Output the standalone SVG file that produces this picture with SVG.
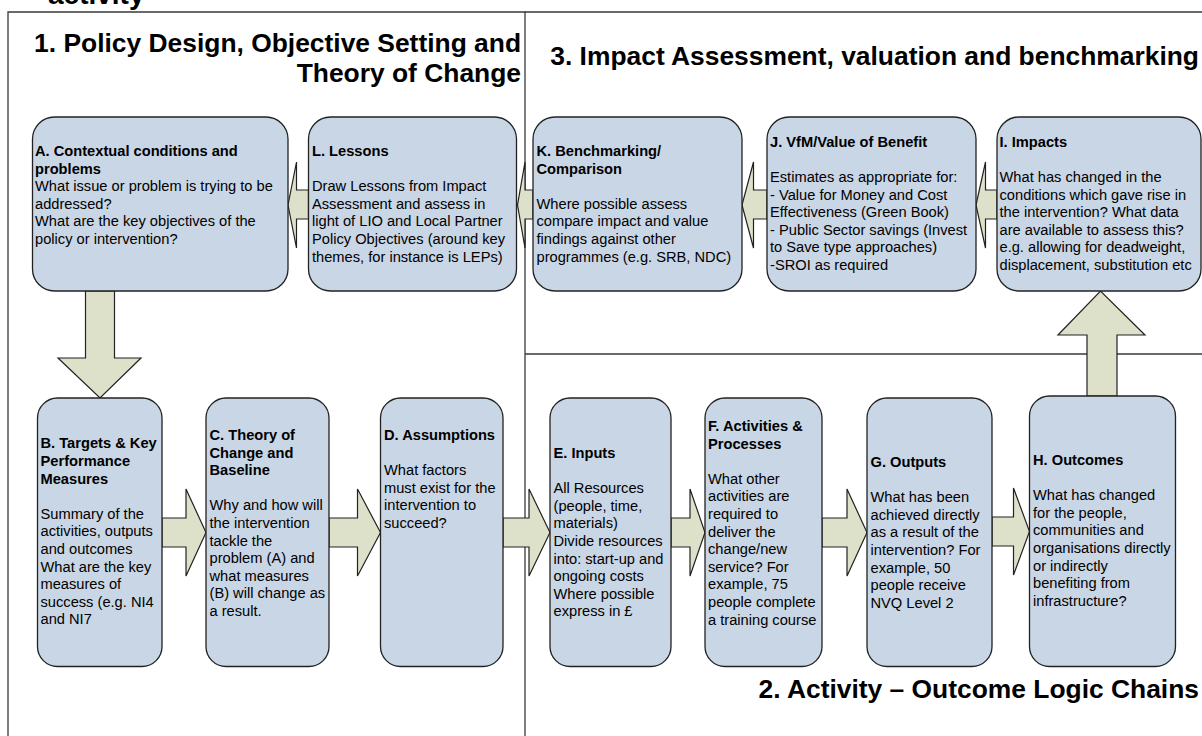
<svg xmlns="http://www.w3.org/2000/svg" width="1202" height="736" viewBox="0 0 1202 736">
<style>
.frame{fill:none;stroke:#3a3a3a;stroke-width:1.3}
.box{fill:#c9d6e5;stroke:#222;stroke-width:1.3}
.arr{fill:#dee1ca;stroke:#222;stroke-width:1.2;stroke-linejoin:miter}
text{font-family:"Liberation Sans",Arial,sans-serif;fill:#000}
.t{font-size:14.67px}
.b{font-size:14.67px;font-weight:bold}
.h{font-size:26.4px;font-weight:bold}
</style>
<rect width="1202" height="736" fill="#fff"/>
<g id="frames">
<text x="48" y="4" style="font-size:28px;font-weight:bold">activity</text>
<path class="frame" d="M8,740 V12 H525 V740"/>
<path class="frame" d="M525,12 H1205 M525,354 H1205"/>
<text class="h" x="521" y="52" text-anchor="end">1. Policy Design, Objective Setting and</text>
<text class="h" x="521" y="82" text-anchor="end">Theory of Change</text>
<text class="h" x="1199" y="65" text-anchor="end">3. Impact Assessment, valuation and benchmarking</text>
<text class="h" x="1199" y="698" text-anchor="end">2. Activity – Outcome Logic Chains</text>
</g>
<g id="connectors">
<path class="arr" d="M308.5,190 H296.5 V162 L288,205 L296.5,248 V219 H308.5 Z"/>
<path class="arr" d="M533,190 H525 V162 L517.5,205 L525,248 V219 H533 Z"/>
<path class="arr" d="M767,190 H753.5 V162 L742,205 L753.5,248 V219 H767 Z"/>
<path class="arr" d="M997,190 H985.5 V162 L976,205 L985.5,248 V219 H997 Z"/>
<path class="arr" d="M85.5,291 V358 H58 L100,398 L141,358 H114.5 V291 Z"/>
<path class="arr" d="M162,518 H186 V489 L206,532.5 L186,576 V547 H162 Z"/>
<path class="arr" d="M329,518 H357.5 V489 L380.5,532.5 L357.5,576 V547 H329 Z"/>
<path class="arr" d="M503,518 H529 V489 L550,532.5 L529,576 V547 H503 Z"/>
<path class="arr" d="M671,518 H690 V489 L705,532.5 L690,576 V547 H671 Z"/>
<path class="arr" d="M822,518 H847 V489 L867,532.5 L847,576 V547 H822 Z"/>
<path class="arr" d="M992,517 H1013.5 V488 L1029.5,531.5 L1013.5,575 V546 H992 Z"/>
<path class="arr" d="M1087,396 V335 H1058 L1100.5,291 L1145,335 H1117 V396 Z"/>
</g>
<g id="nodeA">
<rect class="box" x="32.5" y="117" width="255.5" height="174" rx="22" ry="22"/>
<text class="b" x="35" y="156">A. Contextual conditions and</text>
<text class="b" x="35" y="173.6">problems</text>
<text class="t" x="35" y="191.2">What issue or problem is trying to be</text>
<text class="t" x="35" y="208.8">addressed?</text>
<text class="t" x="35" y="226.4">What are the key objectives of the</text>
<text class="t" x="35" y="244">policy or intervention?</text>
</g>
<g id="nodeL">
<rect class="box" x="308.5" y="117" width="208" height="174" rx="22" ry="22"/>
<text class="b" x="312" y="156">L. Lessons</text>
<text class="t" x="312" y="191.2">Draw Lessons from Impact</text>
<text class="t" x="312" y="208.8">Assessment and assess in</text>
<text class="t" x="312" y="226.4">light of LIO and Local Partner</text>
<text class="t" x="312" y="244">Policy Objectives (around key</text>
<text class="t" x="312" y="261.6">themes, for instance is LEPs)</text>
</g>
<g id="nodeK">
<rect class="box" x="533" y="117" width="209" height="174" rx="22" ry="22"/>
<text class="b" x="536.5" y="156">K. Benchmarking/</text>
<text class="b" x="536.5" y="173.6">Comparison</text>
<text class="t" x="536.5" y="208.8">Where possible assess</text>
<text class="t" x="536.5" y="226.4">compare impact and value</text>
<text class="t" x="536.5" y="244">findings against other</text>
<text class="t" x="536.5" y="261.6">programmes (e.g. SRB, NDC)</text>
</g>
<g id="nodeJ">
<rect class="box" x="767" y="117" width="209" height="174" rx="22" ry="22"/>
<text class="b" x="770" y="147">J. VfM/Value of Benefit</text>
<text class="t" x="770" y="182">Estimates as appropriate for:</text>
<text class="t" x="770" y="199.6">- Value for Money and Cost</text>
<text class="t" x="770" y="217.2">Effectiveness (Green Book)</text>
<text class="t" x="770" y="234.8">- Public Sector savings (Invest</text>
<text class="t" x="770" y="252.4">to Save type approaches)</text>
<text class="t" x="770" y="270">-SROI as required</text>
</g>
<g id="nodeI">
<rect class="box" x="997" y="117" width="204" height="174" rx="22" ry="22"/>
<text class="b" x="999.5" y="147">I. Impacts</text>
<text class="t" x="999.5" y="182">What has changed in the</text>
<text class="t" x="999.5" y="199.6">conditions which gave rise in</text>
<text class="t" x="999.5" y="217.2">the intervention? What data</text>
<text class="t" x="999.5" y="234.8">are available to assess this?</text>
<text class="t" x="999.5" y="252.4">e.g. allowing for deadweight,</text>
<text class="t" x="999.5" y="270">displacement, substitution etc</text>
</g>
<g id="nodeB">
<rect class="box" x="37.5" y="398" width="124.5" height="268.5" rx="20" ry="20"/>
<text class="b" x="40.5" y="448.3">B. Targets &amp; Key</text>
<text class="b" x="40.5" y="465.9">Performance</text>
<text class="b" x="40.5" y="483.5">Measures</text>
<text class="t" x="40.5" y="518.7">Summary of the</text>
<text class="t" x="40.5" y="536.3">activities, outputs</text>
<text class="t" x="40.5" y="553.9">and outcomes</text>
<text class="t" x="40.5" y="571.5">What are the key</text>
<text class="t" x="40.5" y="589.1">measures of</text>
<text class="t" x="40.5" y="606.7">success (e.g. NI4</text>
<text class="t" x="40.5" y="624.3">and NI7</text>
</g>
<g id="nodeC">
<rect class="box" x="206" y="398" width="123" height="268.5" rx="20" ry="20"/>
<text class="b" x="209.5" y="440">C. Theory of</text>
<text class="b" x="209.5" y="457.6">Change and</text>
<text class="b" x="209.5" y="475.2">Baseline</text>
<text class="t" x="209.5" y="510.4">Why and how will</text>
<text class="t" x="209.5" y="528">the intervention</text>
<text class="t" x="209.5" y="545.6">tackle the</text>
<text class="t" x="209.5" y="563.2">problem (A) and</text>
<text class="t" x="209.5" y="580.8">what measures</text>
<text class="t" x="209.5" y="598.4">(B) will change as</text>
<text class="t" x="209.5" y="616">a result.</text>
</g>
<g id="nodeD">
<rect class="box" x="380.5" y="398" width="122.5" height="268.5" rx="20" ry="20"/>
<text class="b" x="384" y="440">D. Assumptions</text>
<text class="t" x="384" y="475.2">What factors</text>
<text class="t" x="384" y="492.8">must exist for the</text>
<text class="t" x="384" y="510.4">intervention to</text>
<text class="t" x="384" y="528">succeed?</text>
</g>
<g id="nodeE">
<rect class="box" x="550" y="398" width="121" height="268.5" rx="20" ry="20"/>
<text class="b" x="553.5" y="458">E. Inputs</text>
<text class="t" x="553.5" y="493.2">All Resources</text>
<text class="t" x="553.5" y="510.8">(people, time,</text>
<text class="t" x="553.5" y="528.4">materials)</text>
<text class="t" x="553.5" y="546">Divide resources</text>
<text class="t" x="553.5" y="563.6">into: start-up and</text>
<text class="t" x="553.5" y="581.2">ongoing costs</text>
<text class="t" x="553.5" y="598.8">Where possible</text>
<text class="t" x="553.5" y="616.4">express in £</text>
</g>
<g id="nodeF">
<rect class="box" x="705" y="398" width="117" height="268.5" rx="20" ry="20"/>
<text class="b" x="708" y="431">F. Activities &amp;</text>
<text class="b" x="708" y="448.6">Processes</text>
<text class="t" x="708" y="483.8">What other</text>
<text class="t" x="708" y="501.4">activities are</text>
<text class="t" x="708" y="519">required to</text>
<text class="t" x="708" y="536.6">deliver the</text>
<text class="t" x="708" y="554.2">change/new</text>
<text class="t" x="708" y="571.8">service? For</text>
<text class="t" x="708" y="589.4">example, 75</text>
<text class="t" x="708" y="607">people complete</text>
<text class="t" x="708" y="624.6">a training course</text>
</g>
<g id="nodeG">
<rect class="box" x="867" y="398" width="125" height="268.5" rx="20" ry="20"/>
<text class="b" x="870.5" y="467">G. Outputs</text>
<text class="t" x="870.5" y="502.2">What has been</text>
<text class="t" x="870.5" y="519.8">achieved directly</text>
<text class="t" x="870.5" y="537.4">as a result of the</text>
<text class="t" x="870.5" y="555">intervention? For</text>
<text class="t" x="870.5" y="572.6">example, 50</text>
<text class="t" x="870.5" y="590.2">people receive</text>
<text class="t" x="870.5" y="607.8">NVQ Level 2</text>
</g>
<g id="nodeH">
<rect class="box" x="1029.5" y="396" width="146" height="270.5" rx="20" ry="20"/>
<text class="b" x="1033" y="465">H. Outcomes</text>
<text class="t" x="1033" y="500.2">What has changed</text>
<text class="t" x="1033" y="517.8">for the people,</text>
<text class="t" x="1033" y="535.4">communities and</text>
<text class="t" x="1033" y="553">organisations directly</text>
<text class="t" x="1033" y="570.6">or indirectly</text>
<text class="t" x="1033" y="588.2">benefiting from</text>
<text class="t" x="1033" y="605.8">infrastructure?</text>
</g>
</svg>
